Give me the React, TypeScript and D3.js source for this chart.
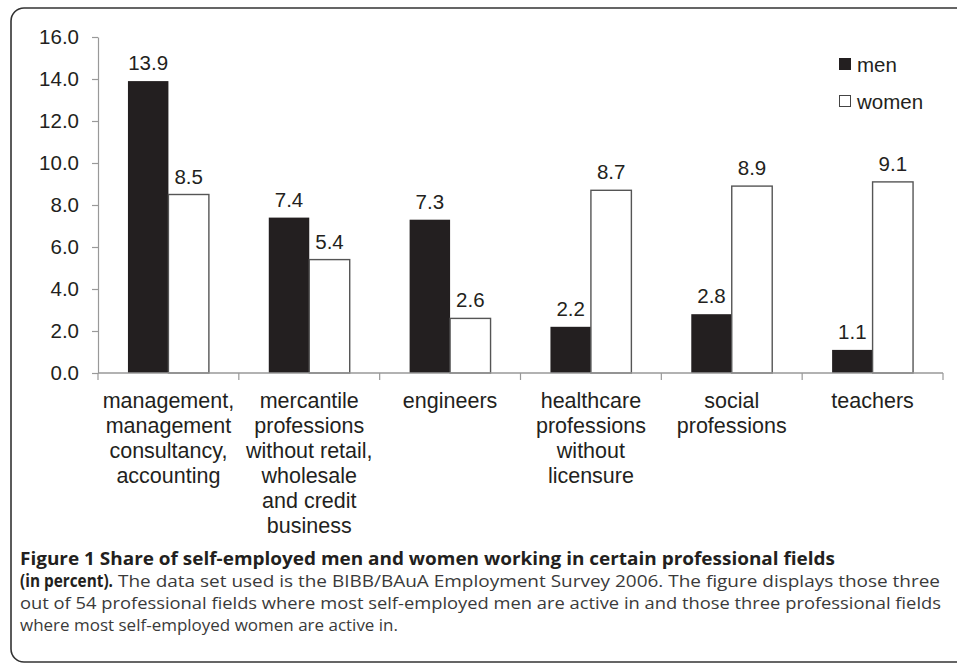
import React, { useEffect, useRef } from "react";
import * as d3 from "d3";

// values (percent)
const categories = [
  ["management,", "management", "consultancy,", "accounting"],
  ["mercantile", "professions", "without retail,", "wholesale", "and credit", "business"],
  ["engineers"],
  ["healthcare", "professions", "without", "licensure"],
  ["social", "professions"],
  ["teachers"],
];
const men = [13.9, 7.4, 7.3, 2.2, 2.8, 1.1];
const women = [8.5, 5.4, 2.6, 8.7, 8.9, 9.1];
const seriesKeys = ["men", "women"];
const yTicks = [0, 2, 4, 6, 8, 10, 12, 14, 16];

const captionBold = "Figure 1 Share of self-employed men and women working in certain professional fields";
const captionLine2Bold = "(in percent).";
const captionLine2 = "The data set used is the BIBB/BAuA Employment Survey 2006. The figure displays those three";
const captionLine3 = "out of 54 professional fields where most self-employed men are active in and those three professional fields";
const captionLine4 = "where most self-employed women are active in.";

const width = 957;
const height = 664;

export default function App() {
  const ref = useRef(null);

  useEffect(() => {
    document.body.style.margin = "0";
    const svg = d3.select(ref.current);
    svg.selectAll("*").remove();

    const ink = "#231f20";
    const font = "'Liberation Sans', Arial, Helvetica, sans-serif";

    const x = d3.scaleBand().domain(d3.range(categories.length)).range([98, 943]).padding(0);
    const xs = d3.scaleBand().domain(seriesKeys).range([0, x.bandwidth()]).paddingInner(0).paddingOuter(0.74);
    const y = d3.scaleLinear().domain([0, 16]).range([373, 37]);

    // frame
    svg.append("rect")
      .attr("x", 11).attr("y", 8)
      .attr("width", 980).attr("height", 654)
      .attr("rx", 13).attr("ry", 13)
      .attr("fill", "none")
      .attr("stroke", "#333").attr("stroke-width", 1.6);

    // y axis
    const yAxis = d3.axisLeft(y).tickValues(yTicks).tickFormat(d3.format(".1f")).tickSize(6).tickSizeOuter(0).tickPadding(13);
    svg.append("g")
      .attr("transform", "translate(98,0)")
      .call(yAxis)
      .call((g) => g.select(".domain").attr("stroke", "#999").attr("stroke-width", 1.2))
      .call((g) => g.selectAll(".tick line").attr("stroke", "#999").attr("stroke-width", 1.2))
      .call((g) =>
        g.selectAll(".tick text")
          .attr("font-family", font)
          .attr("font-size", "20.5px")
          .attr("fill", ink)
      );

    // bars
    const groups = svg.append("g")
      .selectAll("g")
      .data(categories.map((c, i) => ({ i, men: men[i], women: women[i] })))
      .join("g")
      .attr("transform", (d) => `translate(${x(d.i)},0)`);

    groups.selectAll("rect")
      .data((d) => seriesKeys.map((k) => ({ key: k, value: d[k] })))
      .join("rect")
      .attr("x", (d) => xs(d.key))
      .attr("y", (d) => y(d.value))
      .attr("width", xs.bandwidth())
      .attr("height", (d) => y(0) - y(d.value))
      .attr("fill", (d) => (d.key === "men" ? ink : "#fff"))
      .attr("stroke", (d) => (d.key === "men" ? "none" : "#555"))
      .attr("stroke-width", 1.4);

    groups.selectAll("text.value")
      .data((d) => seriesKeys.map((k) => ({ key: k, value: d[k] })))
      .join("text")
      .attr("class", "value")
      .attr("x", (d) => xs(d.key) + xs.bandwidth() / 2)
      .attr("y", (d) => y(d.value) - 11)
      .attr("text-anchor", "middle")
      .attr("font-family", font)
      .attr("font-size", "20.5px")
      .attr("fill", ink)
      .text((d) => d.value.toFixed(1));

    // x axis
    svg.append("line")
      .attr("x1", 98).attr("x2", 943)
      .attr("y1", y(0)).attr("y2", y(0))
      .attr("stroke", "#999").attr("stroke-width", 1.4);
    svg.append("g")
      .selectAll("line")
      .data(d3.range(categories.length + 1))
      .join("line")
      .attr("x1", (i) => (i < categories.length ? x(i) : x(i - 1) + x.bandwidth()))
      .attr("x2", (i) => (i < categories.length ? x(i) : x(i - 1) + x.bandwidth()))
      .attr("y1", y(0)).attr("y2", y(0) + 7)
      .attr("stroke", "#999").attr("stroke-width", 1.2);

    // category labels
    svg.append("g")
      .selectAll("text")
      .data(categories)
      .join("text")
      .attr("text-anchor", "middle")
      .attr("font-family", font)
      .attr("font-size", "21.5px")
      .attr("fill", ink)
      .each(function (lines, i) {
        d3.select(this)
          .selectAll("tspan")
          .data(lines)
          .join("tspan")
          .attr("x", x(i) + x.bandwidth() / 2)
          .attr("y", (_, j) => 408 + j * 25)
          .text((t) => t);
      });

    // legend
    const legend = svg.append("g").attr("transform", "translate(839,0)");
    seriesKeys.forEach((k, i) => {
      legend.append("rect")
        .attr("x", 0.5).attr("y", 58.5 + i * 37)
        .attr("width", 11).attr("height", 11)
        .attr("fill", k === "men" ? ink : "#fff")
        .attr("stroke", k === "men" ? ink : "#444")
        .attr("stroke-width", 1);
      legend.append("text")
        .attr("x", 18).attr("y", 72 + i * 37)
        .attr("font-family", font)
        .attr("font-size", "20.5px")
        .attr("fill", ink)
        .text(k);
    });

    // caption
    const capFont = "'Open Sans', 'Noto Sans', sans-serif";
    const cap = svg.append("g").attr("font-family", capFont).attr("font-size", "17px");
    cap.append("text")
      .attr("x", 20).attr("y", 565)
      .attr("font-weight", 700).attr("fill", ink)
      .attr("textLength", 815).attr("lengthAdjust", "spacingAndGlyphs")
      .text(captionBold);
    cap.append("text")
      .attr("x", 20).attr("y", 587)
      .attr("font-weight", 700).attr("fill", ink)
      .attr("textLength", 93).attr("lengthAdjust", "spacingAndGlyphs")
      .text(captionLine2Bold);
    cap.append("text")
      .attr("x", 118).attr("y", 587)
      .attr("fill", "#3a3a3a")
      .attr("textLength", 822).attr("lengthAdjust", "spacingAndGlyphs")
      .text(captionLine2);
    cap.append("text")
      .attr("x", 20).attr("y", 609)
      .attr("fill", "#3a3a3a")
      .attr("textLength", 921).attr("lengthAdjust", "spacingAndGlyphs")
      .text(captionLine3);
    cap.append("text")
      .attr("x", 20).attr("y", 631)
      .attr("fill", "#3a3a3a")
      .attr("textLength", 378).attr("lengthAdjust", "spacingAndGlyphs")
      .text(captionLine4);
  }, []);

  return (
    <svg
      ref={ref}
      width={width}
      height={height}
      viewBox={`0 0 ${width} ${height}`}
      style={{ display: "block", background: "#fff" }}
    />
  );
}
